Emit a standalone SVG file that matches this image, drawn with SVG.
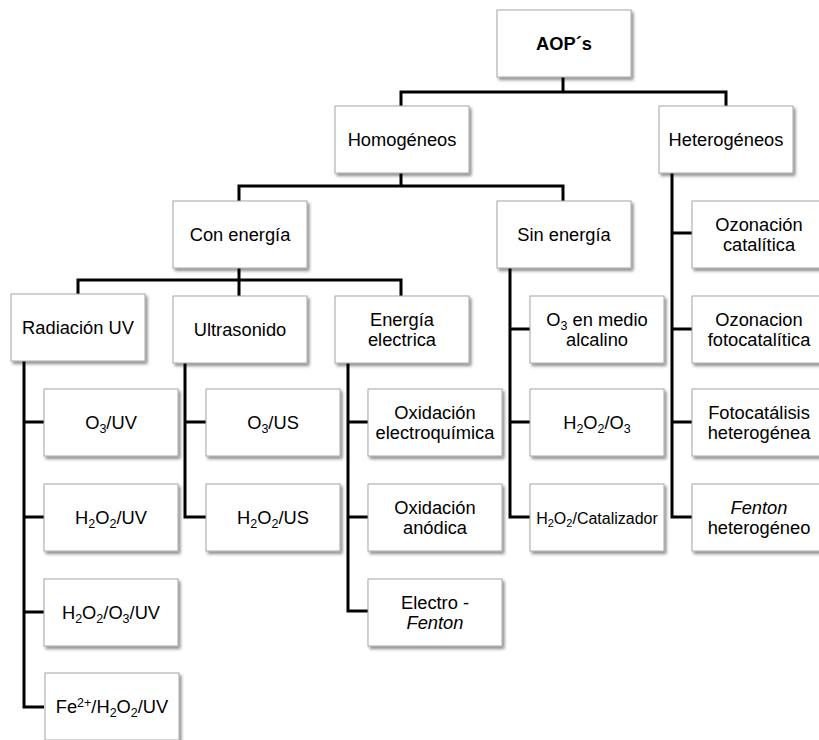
<svg xmlns="http://www.w3.org/2000/svg" width="819" height="740" viewBox="0 0 819 740">
<style>
.box{fill:#fff;stroke:#a6a6a6;stroke-width:1;filter:url(#sh)}
text{font-family:"Liberation Sans",Arial,sans-serif;font-size:18.3px;fill:#000;text-anchor:middle}
.b{font-weight:bold}
.s{font-size:12.5px}
.sm{font-size:16px}
.sm .s{font-size:11px}
.i{font-style:italic}
.con{fill:none;stroke:#000;stroke-width:3}
</style>
<defs>
<filter id="sh" x="-10%" y="-10%" width="130%" height="140%">
<feDropShadow dx="2" dy="2.5" stdDeviation="1.8" flood-color="#000" flood-opacity="0.45"/>
</filter>
</defs>
<rect width="819" height="740" fill="#fff"/>
<g id="connectors" class="con">
<path d="M563,77V92M401,106V92H726V106"/>
<path d="M401,173V186M239,201V186H563V201"/>
<path d="M239,267V296M78,294V280H401V296"/>
<path d="M24,361V707H44M24,422H44M24,517H44M24,612H44"/>
<path d="M185,363V517H206M185,422H206"/>
<path d="M348,363V611H368M348,422H368M348,517H368"/>
<path d="M510,267V517H530M510,329H530M510,422H530"/>
<path d="M672,173V517H692M672,233H692M672,329H692M672,422H692"/>
</g>
<g id="aop"><rect class="box" x="497" y="10" width="134" height="67"/><text class="b" x="564" y="50">AOP´s</text></g>
<g id="homogeneos"><rect class="box" x="335" y="106" width="134" height="67"/><text x="402" y="146">Homogéneos</text></g>
<g id="heterogeneos"><rect class="box" x="659" y="106" width="134" height="67"/><text x="726" y="146">Heterogéneos</text></g>
<g id="con-energia"><rect class="box" x="173" y="201" width="134" height="67"/><text x="240" y="241">Con energía</text></g>
<g id="sin-energia"><rect class="box" x="497" y="201" width="134" height="67"/><text x="564" y="241">Sin energía</text></g>
<g id="radiacion-uv"><rect class="box" x="11" y="294" width="134" height="67"/><text x="78" y="334">Radiación UV</text></g>
<g id="ultrasonido"><rect class="box" x="173" y="296" width="134" height="67"/><text x="240" y="336">Ultrasonido</text></g>
<g id="energia-electrica"><rect class="box" x="335" y="296" width="134" height="67"/><text x="402" y="326">Energía</text><text x="402" y="345.5">electrica</text></g>
<g id="o3-alcalino"><rect class="box" x="530" y="296" width="134" height="67"/><text x="597" y="326">O<tspan class="s" dy="4">3</tspan><tspan dy="-4"> en medio</tspan></text><text x="597" y="345.5">alcalino</text></g>
<g id="ozonacion-catalitica"><rect class="box" x="692" y="201" width="134" height="67"/><text x="759" y="231">Ozonación</text><text x="759" y="250.5">catalítica</text></g>
<g id="ozonacion-fotocatalitica"><rect class="box" x="692" y="296" width="134" height="67"/><text x="759" y="326">Ozonacion</text><text x="759" y="345.5">fotocatalítica</text></g>
<g id="o3-uv"><rect class="box" x="44" y="389" width="134" height="67"/><text x="111" y="429">O<tspan class="s" dy="4">3</tspan><tspan dy="-4">/UV</tspan></text></g>
<g id="h2o2-uv"><rect class="box" x="44" y="484" width="134" height="67"/><text x="111" y="524">H<tspan class="s" dy="4">2</tspan><tspan dy="-4">O</tspan><tspan class="s" dy="4">2</tspan><tspan dy="-4">/UV</tspan></text></g>
<g id="h2o2-o3-uv"><rect class="box" x="44" y="579" width="134" height="67"/><text x="111" y="619">H<tspan class="s" dy="4">2</tspan><tspan dy="-4">O</tspan><tspan class="s" dy="4">2</tspan><tspan dy="-4">/O</tspan><tspan class="s" dy="4">3</tspan><tspan dy="-4">/UV</tspan></text></g>
<g id="fe-h2o2-uv"><rect class="box" x="45" y="673" width="134" height="67"/><text x="112" y="713">Fe<tspan class="s" dy="-6">2+</tspan><tspan dy="6">/H</tspan><tspan class="s" dy="4">2</tspan><tspan dy="-4">O</tspan><tspan class="s" dy="4">2</tspan><tspan dy="-4">/UV</tspan></text></g>
<g id="o3-us"><rect class="box" x="206" y="389" width="134" height="67"/><text x="273" y="429">O<tspan class="s" dy="4">3</tspan><tspan dy="-4">/US</tspan></text></g>
<g id="h2o2-us"><rect class="box" x="206" y="484" width="134" height="67"/><text x="273" y="524">H<tspan class="s" dy="4">2</tspan><tspan dy="-4">O</tspan><tspan class="s" dy="4">2</tspan><tspan dy="-4">/US</tspan></text></g>
<g id="oxidacion-electroquimica"><rect class="box" x="368" y="389" width="134" height="67"/><text x="435" y="419">Oxidación</text><text x="435" y="438.5">electroquímica</text></g>
<g id="oxidacion-anodica"><rect class="box" x="368" y="484" width="134" height="67"/><text x="435" y="514">Oxidación</text><text x="435" y="533.5">anódica</text></g>
<g id="electro-fenton"><rect class="box" x="368" y="579" width="134" height="67"/><text x="435" y="609">Electro -</text><text class="i" x="435" y="628.5">Fenton</text></g>
<g id="h2o2-o3"><rect class="box" x="530" y="389" width="134" height="67"/><text x="597" y="429">H<tspan class="s" dy="4">2</tspan><tspan dy="-4">O</tspan><tspan class="s" dy="4">2</tspan><tspan dy="-4">/O</tspan><tspan class="s" dy="4">3</tspan></text></g>
<g id="h2o2-catalizador"><rect class="box" x="530" y="484" width="134" height="67"/><text class="sm" x="597" y="523.5">H<tspan class="s" dy="3.5">2</tspan><tspan dy="-3.5">O</tspan><tspan class="s" dy="3.5">2</tspan><tspan dy="-3.5">/Catalizador</tspan></text></g>
<g id="fotocatalisis-heterogenea"><rect class="box" x="692" y="389" width="134" height="67"/><text x="759" y="419">Fotocatálisis</text><text x="759" y="438.5">heterogénea</text></g>
<g id="fenton-heterogeneo"><rect class="box" x="692" y="484" width="134" height="67"/><text class="i" x="759" y="514">Fenton</text><text x="759" y="533.5">heterogéneo</text></g>
</svg>
